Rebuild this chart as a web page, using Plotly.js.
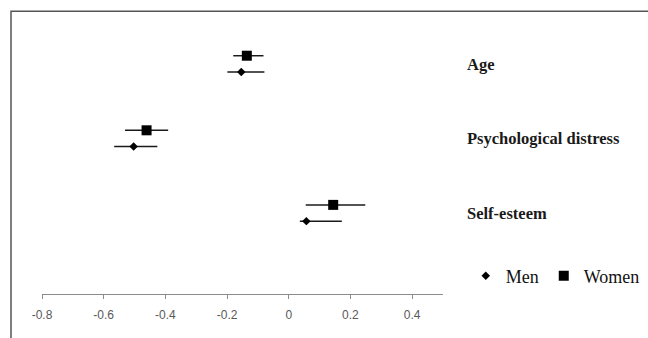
<!DOCTYPE html>
<html><head><meta charset="utf-8">
<script src="https://cdn.plot.ly/plotly-3.0.1.min.js"></script>
<style>html,body{margin:0;padding:0;background:#fff}#chart{width:648px;height:338px}</style>
</head><body><div id="chart"></div>
<script>
const categories = ['Age', 'Psychological distress', 'Self-esteem'];
const menEstimate = [-0.154, -0.503, 0.057];
const menLower = [-0.199, -0.566, 0.036];
const menUpper = [-0.079, -0.426, 0.172];
const womenEstimate = [-0.136, -0.461, 0.144];
const womenLower = [-0.180, -0.531, 0.055];
const womenUpper = [-0.082, -0.391, 0.248];
const xTickVals = [-0.8, -0.6, -0.4, -0.2, 0, 0.2, 0.4];
const xTickText = ['-0.8', '-0.6', '-0.4', '-0.2', '0', '0.2', '0.4'];

const n = categories.length;
const catPos = categories.map((c, i) => n - i);
const offset = 0.109;

const men = {
  type: 'scatter', mode: 'markers', name: 'Men',
  x: menEstimate,
  y: catPos.map(p => p - offset),
  marker: {symbol: 'diamond', size: 6.5, color: '#000'},
  error_x: {type: 'data', symmetric: false,
    array: menUpper.map((u, i) => u - menEstimate[i]),
    arrayminus: menEstimate.map((e, i) => e - menLower[i]),
    thickness: 1.5, width: 0, color: '#1a1a1a'},
  hoverinfo: 'x'
};
const women = {
  type: 'scatter', mode: 'markers', name: 'Women',
  x: womenEstimate,
  y: catPos.map(p => p + offset),
  marker: {symbol: 'square', size: 10, color: '#000'},
  error_x: {type: 'data', symmetric: false,
    array: womenUpper.map((u, i) => u - womenEstimate[i]),
    arrayminus: womenEstimate.map((e, i) => e - womenLower[i]),
    thickness: 1.5, width: 0, color: '#1a1a1a'},
  hoverinfo: 'x'
};

const layout = {
  width: 648, height: 338,
  margin: {l: 42, r: 205, t: 20, b: 44, pad: 0, autoexpand: false},
  paper_bgcolor: '#fff', plot_bgcolor: '#fff',
  showlegend: true,
  legend: {orientation: 'h', xref: 'container', yref: 'container', x: 0.995, xanchor: 'right', y: 0.183, yanchor: 'middle',
    font: {family: 'Liberation Serif, serif', size: 18, color: '#111'}, bgcolor: 'rgba(0,0,0,0)', tracegroupgap: 0},
  xaxis: {
    range: [-0.8, 0.5], tickvals: xTickVals, ticktext: xTickText,
    showline: true, linecolor: '#8c8c8c', linewidth: 1,
    ticks: 'outside', ticklen: 4, tickcolor: '#8c8c8c', tickwidth: 1,
    tickfont: {family: 'Liberation Sans, Arial, sans-serif', size: 12, color: '#595959'},
    ticklabelstandoff: 6,
    showgrid: false, zeroline: false, fixedrange: true
  },
  yaxis: {
    range: [-0.086, 3.588], side: 'right', tickvals: catPos, ticktext: categories,
    ticks: '', showline: false, showgrid: false, zeroline: false,
    ticklabelstandoff: 23,
    tickfont: {family: 'Liberation Serif, serif', size: 16.5, color: '#1a1a1a', weight: 'bold'},
    fixedrange: true
  },
  shapes: [{type: 'rect', xref: 'paper', yref: 'paper',
    x0: -0.0773, x1: 1.6, y0: -0.3, y1: 1.0318,
    line: {color: '#555', width: 1.5}, fillcolor: 'rgba(0,0,0,0)', layer: 'below'}]
};

Plotly.newPlot('chart', [men, women], layout, {displayModeBar: false, staticPlot: true});
</script>
</body></html>
